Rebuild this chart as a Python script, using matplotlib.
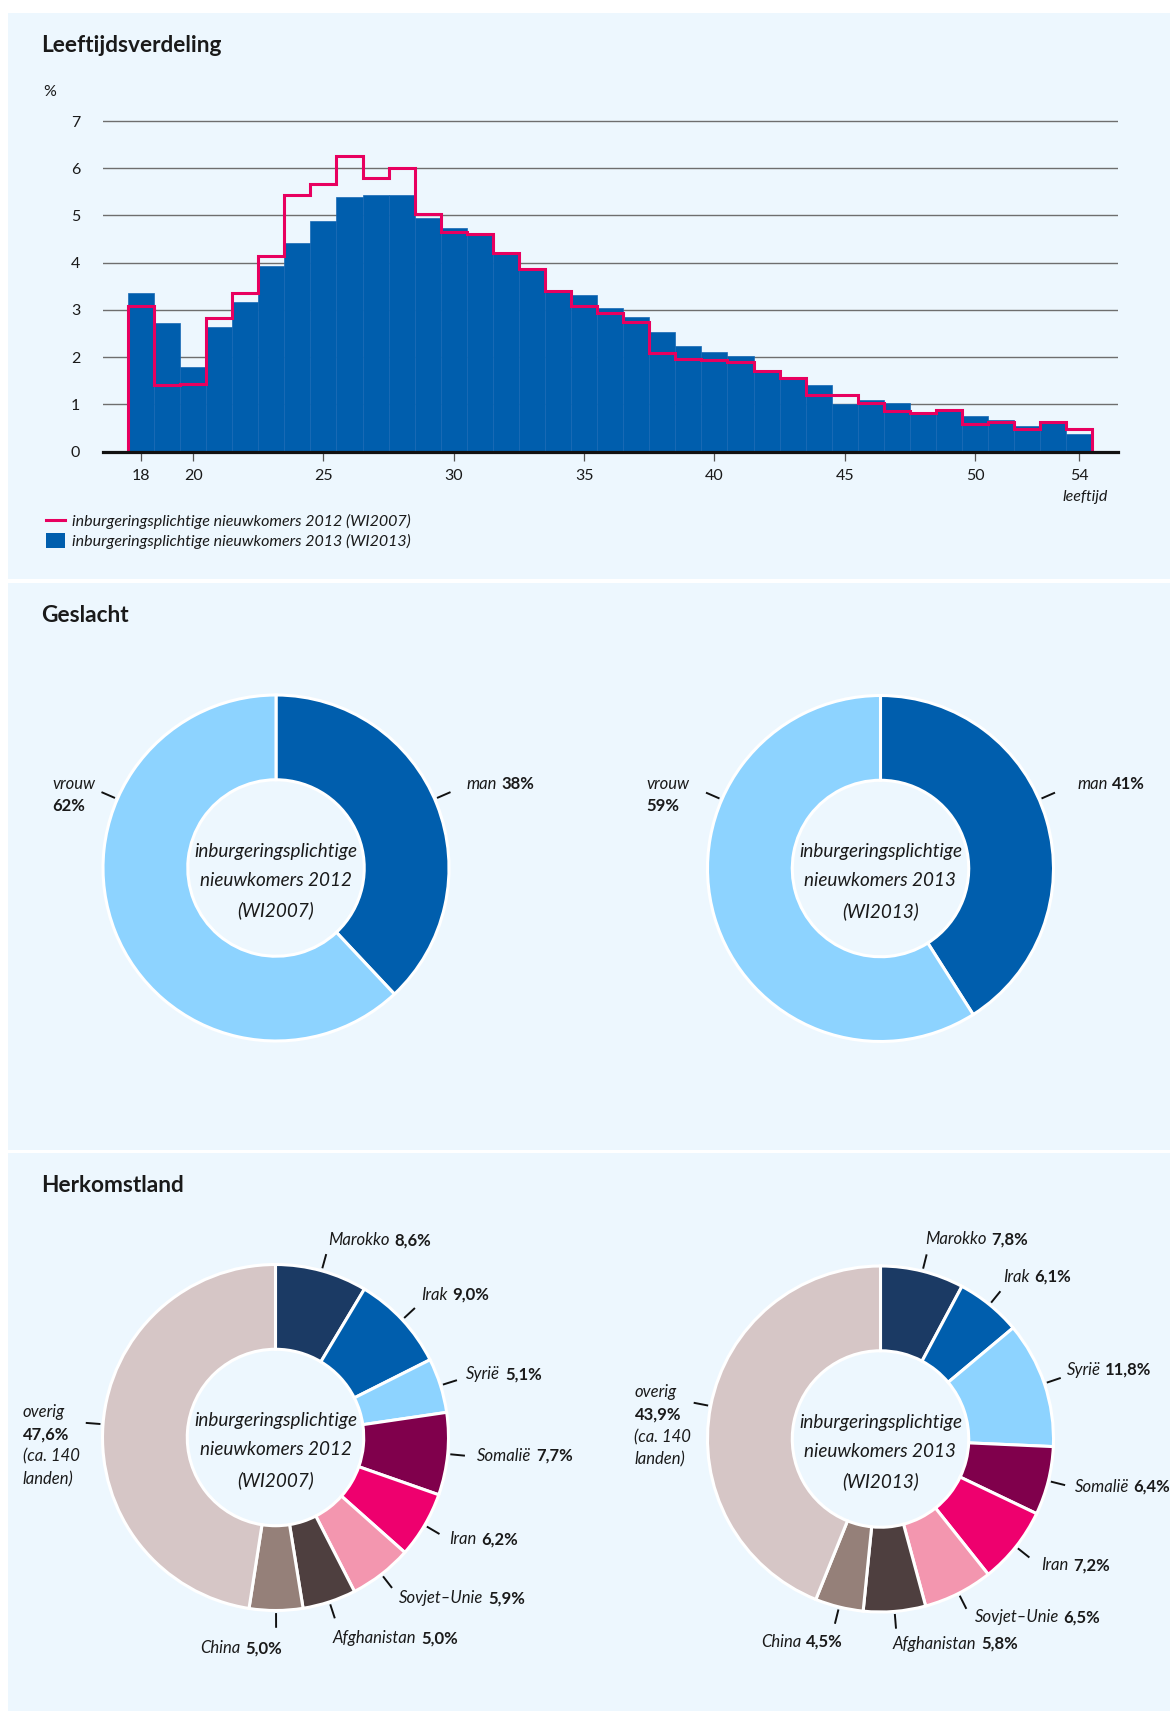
import numpy as np
import matplotlib
matplotlib.use("Agg")
import matplotlib.pyplot as plt
from matplotlib.patches import Rectangle, Patch
from matplotlib.lines import Line2D

# ------------------------------------------------------------------ data
ages = list(range(18, 55))
share_2013 = [3.35, 2.72, 1.80, 2.65, 3.17, 3.93, 4.42, 4.88, 5.39, 5.43,
              5.43, 4.95, 4.73, 4.63, 4.22, 3.87, 3.40, 3.31, 3.04, 2.85,
              2.53, 2.23, 2.10, 2.03, 1.73, 1.58, 1.41, 1.02, 1.10, 1.03,
              0.80, 0.86, 0.75, 0.68, 0.54, 0.62, 0.38]
share_2012 = [3.08, 1.41, 1.43, 2.84, 3.35, 4.15, 5.44, 5.66, 6.26, 5.79,
              6.00, 5.04, 4.66, 4.61, 4.20, 3.86, 3.40, 3.08, 2.94, 2.75,
              2.09, 1.97, 1.95, 1.90, 1.70, 1.57, 1.19, 1.19, 1.04, 0.86,
              0.82, 0.88, 0.59, 0.63, 0.47, 0.62, 0.47]
age_ticks = [18, 20, 25, 30, 35, 40, 45, 50, 54]
y_ticks = [0, 1, 2, 3, 4, 5, 6, 7]
series_labels = ["inburgeringsplichtige nieuwkomers 2012 (WI2007)",
                 "inburgeringsplichtige nieuwkomers 2013 (WI2013)"]

genders = ["man", "vrouw"]
gender_2012 = [38, 62]
gender_2013 = [41, 59]

countries = ["Marokko", "Irak", "Syrië", "Somalië", "Iran", "Sovjet–Unie",
             "Afghanistan", "China", "overig"]
origin_2012 = [8.6, 9.0, 5.1, 7.7, 6.2, 5.9, 5.0, 5.0, 47.6]
origin_2013 = [7.8, 6.1, 11.8, 6.4, 7.2, 6.5, 5.8, 4.5, 43.9]

center_2012 = "inburgeringsplichtige\nnieuwkomers 2012\n(WI2007)"
center_2013 = "inburgeringsplichtige\nnieuwkomers 2013\n(WI2013)"

# ------------------------------------------------------------------ style
W, H, DPI = 1170, 1711, 100
PX = 72.0 / DPI            # points per pixel
BG = "#EDF7FE"
BLUE = "#005EAD"
LIGHT = "#8DD3FF"
PINK = "#E8005F"
TXT = "#1A1A1A"
country_colors = ["#1B3A64", "#005EAD", "#8DD3FF", "#80004C", "#EE006E",
                  "#F396AF", "#4E3F3F", "#958079", "#D6C6C6"]
gender_colors = [BLUE, LIGHT]

plt.rcParams["font.family"] = ["Lato", "DejaVu Sans"]
plt.rcParams["text.color"] = TXT

fig = plt.figure(figsize=(W / DPI, H / DPI), dpi=DPI)
fig.patch.set_facecolor("white")


def fx(x):
    return x / W


def fy(y):
    return 1 - y / H


for top, bot in [(13, 579), (583, 1150), (1153, 1711)]:
    fig.add_artist(Rectangle((fx(7.5), fy(bot)), 1 - fx(7.5), (bot - top) / H,
                             transform=fig.transFigure, facecolor=BG,
                             edgecolor="none", zorder=0))

for txt, y in [("Leeftijdsverdeling", 52), ("Geslacht", 622.5), ("Herkomstland", 1192)]:
    fig.text(fx(41), fy(y), txt, fontsize=16.3, fontweight="bold", va="baseline")

fig.text(fx(43), fy(96.5), "%", fontsize=11.5, va="baseline")

# ------------------------------------------------------------------ histogram
x0_px, x1_px = 103, 1118
base_px, unit_px = 451.7, 47.24
ytop = 7.05
tick18_px, tick54_px = 141.0, 1079.3
ppy = (tick54_px - tick18_px) / 36
xl = 18 - (tick18_px - x0_px) / ppy
xr = 54 + (x1_px - tick54_px) / ppy
top_px = base_px - ytop * unit_px
ax = fig.add_axes([fx(x0_px), fy(base_px), (x1_px - x0_px) / W,
                   (base_px - top_px) / H])
ax.set_facecolor("none")
ax.set_xlim(xl, xr)
ax.set_ylim(0, ytop)
for s in ["top", "right", "left"]:
    ax.spines[s].set_visible(False)
ax.spines["bottom"].set_linewidth(2.3)
ax.spines["bottom"].set_color("#111111")
ax.spines["bottom"].set_zorder(4)
ax.set_yticks(y_ticks)
ax.yaxis.grid(True, color="#6E6E6E", linewidth=1.0)
ax.set_axisbelow(True)
ax.tick_params(axis="y", length=0, pad=16.5, labelsize=11.5, labelcolor=TXT)
ax.set_xticks(age_ticks)
ax.tick_params(axis="x", length=6.5, width=0.9, color="#555555", pad=6,
               labelsize=11.5, labelcolor=TXT)

ax.bar(ages, share_2013, width=1.0, color=BLUE, edgecolor="#1869B4",
       linewidth=0.5, zorder=2)
edges = np.append(np.array(ages) - 0.5, ages[-1] + 0.5)
ax.stairs(share_2012, edges, baseline=0, color=PINK, linewidth=2.2, zorder=3)

fig.text(fx(1085), fy(497.5), "leeftijd", style="italic", fontsize=11.5,
         ha="center", va="center")

handles = [Line2D([], [], color=PINK, lw=2.2), Patch(facecolor=BLUE, edgecolor="none")]
fig.legend(handles, series_labels, loc="upper left",
           bbox_to_anchor=(fx(46), fy(513)), frameon=False,
           prop=dict(style="italic", size=11.5), handlelength=1.2,
           handleheight=1.1, handletextpad=0.45, labelspacing=0.25,
           borderpad=0, borderaxespad=0)

# ------------------------------------------------------------------ donuts
R = 173.0
LIM = 1.45
R1, R2 = 1.015, 1.10


def donut_axes(cx, cy):
    half = LIM * R
    a = fig.add_axes([fx(cx - half), fy(cy + half), 2 * half / W, 2 * half / H])
    return a


def finish(a):
    a.set_xlim(-LIM, LIM)
    a.set_ylim(-LIM, LIM)
    a.axis("off")


def pt(theta, r):
    t = np.deg2rad(theta)
    return r * np.sin(t), r * np.cos(t)


def leader(a, theta):
    (xa, ya), (xb, yb) = pt(theta, R1), pt(theta, R2)
    a.plot([xa, xb], [ya, yb], color="#111111", lw=1.4, clip_on=False,
           solid_capstyle="butt")
    return xb, yb


def pair_label(a, xy, name, value, dx, dy, ha="left", size=12):
    if ha == "left":
        t1 = a.annotate(name, xy=xy, xytext=(dx * PX, dy * PX),
                        textcoords="offset points", ha="left", va="center",
                        style="italic", fontsize=size)
        a.annotate(value, xy=(1, 0.5), xycoords=t1, xytext=(3.5, 0),
                   textcoords="offset points", ha="left", va="center",
                   fontweight="bold", fontsize=size)
    else:
        t2 = a.annotate(value, xy=xy, xytext=(dx * PX, dy * PX),
                        textcoords="offset points", ha="right", va="center",
                        fontweight="bold", fontsize=size)
        a.annotate(name, xy=(0, 0.5), xycoords=t2, xytext=(-3.5, 0),
                   textcoords="offset points", ha="right", va="center",
                   style="italic", fontsize=size)


def mid_angles(vals):
    v = np.asarray(vals, dtype=float)
    c = np.cumsum(v)
    return (c - v / 2) / v.sum() * 360.0


def pct(v, dec):
    return (f"{v:.{dec}f}".replace(".", ",")) + "%"


def draw_donut(a, vals, cols, ctext):
    a.pie(vals, colors=cols, startangle=90, counterclock=False, radius=1.0,
          wedgeprops=dict(width=0.49, edgecolor="white", linewidth=2.2))
    a.text(0, -0.075, ctext, ha="center", va="center", style="italic",
           fontsize=13.6, linespacing=1.85)
    finish(a)


# gender donuts
gender_layout = [  # (center x, center y, man offset, vrouw offset)
    (276.0, 868.0, (15.5, 8.0), (-49.5, 8.0)),
    (880.5, 868.5, (22.0, 8.5), (-60.0, 8.5)),
]
for (cx, cy, off_m, off_v), vals, ctext in zip(
        gender_layout, [gender_2012, gender_2013], [center_2012, center_2013]):
    a = donut_axes(cx, cy)
    draw_donut(a, vals, gender_colors, ctext)
    xy_m = leader(a, 66.5)
    pair_label(a, xy_m, genders[0], f"{vals[0]}%", off_m[0], off_m[1])
    xy_v = leader(a, 293.5)
    a.annotate(genders[1], xy=xy_v, xytext=(off_v[0] * PX, off_v[1] * PX),
               textcoords="offset points", ha="left", va="center",
               style="italic", fontsize=12)
    a.annotate(f"{vals[1]}%", xy=xy_v,
               xytext=(off_v[0] * PX, (off_v[1] - 21.7) * PX),
               textcoords="offset points", ha="left", va="center",
               fontweight="bold", fontsize=12)

# origin donuts: per-label text offsets (px) from the leader end
origin_layout = [
    (275.5, 1437.5,
     [(1.8, 14, "left"), (6, 13, "left"), (9, 6, "left"), (11.6, 0, "left"),
      (10, -5, "left"), (6.7, -10.4, "left"), (-2, -20, "left"),
      (5.8, -20.5, "right"), (-62.8, 11.2, "left")]),
    (880.5, 1439.0,
     [(-1.4, 15, "left"), (2.4, 14.5, "left"), (5.7, 8, "left"),
      (9.3, -1.5, "left"), (11.6, -7.5, "left"), (8.1, -8.4, "left"),
      (-3.4, -15.3, "left"), (7.9, -17.9, "right"), (-59.2, 10.5, "left")]),
]
for (cx, cy, offs), vals, ctext in zip(
        origin_layout, [origin_2012, origin_2013], [center_2012, center_2013]):
    a = donut_axes(cx, cy)
    draw_donut(a, vals, country_colors, ctext)
    angles = mid_angles(vals)
    for name, v, th, (dx, dy, ha) in zip(countries, vals, angles, offs):
        xy = leader(a, th)
        if name == "overig":
            lines = [("overig", "italic", "normal"), (pct(v, 1), "normal", "bold"),
                     ("(ca. 140", "italic", "normal"), ("landen)", "italic", "normal")]
            for k, (s, st, wt) in enumerate(lines):
                a.annotate(s, xy=xy, xytext=(dx * PX, (dy - 22.5 * k) * PX),
                           textcoords="offset points", ha="left", va="center",
                           style=st, fontweight=wt, fontsize=12)
        else:
            pair_label(a, xy, name, pct(v, 1), dx, dy, ha=ha)

fig.savefig("out.png", dpi=DPI, facecolor=fig.get_facecolor())
